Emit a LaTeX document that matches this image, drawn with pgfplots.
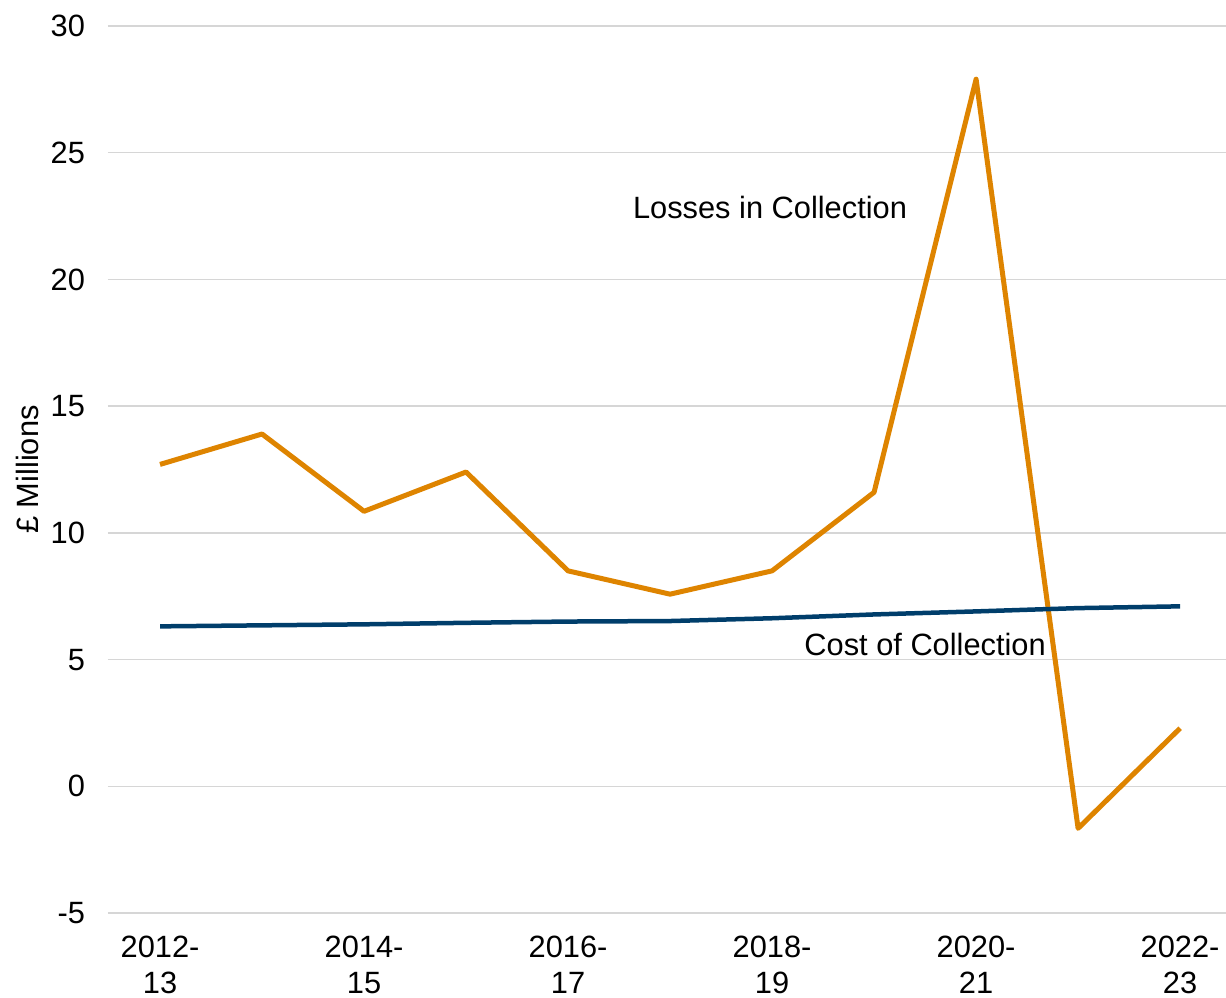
\documentclass[border=0pt]{standalone}
\usepackage{pgfplots}
\pgfplotsset{compat=1.18}
\usepackage{fontspec}
\setmainfont{Liberation Sans}
\definecolor{lossorange}{RGB}{222,132,0}
\definecolor{costblue}{RGB}{0,62,107}
\definecolor{gridgray}{RGB}{214,214,214}
\begin{document}
\begin{tikzpicture}
\begin{axis}[
  scale only axis,
  width=559pt, height=443.5pt,
  xmin=-0.51, xmax=10.45,
  ymin=-5, ymax=30,
  axis line style={draw=none},
  major tick length=0pt,
  ytick={-5,0,5,10,15,20,25,30},
  yticklabels={-5,0,5,10,15,20,25,30},
  xtick={0,2,4,6,8,10},
  xticklabels={{2012-\\13},{2014-\\15},{2016-\\17},{2018-\\19},{2020-\\21},{2022-\\23}},
  ymajorgrids,
  grid style={gridgray, line width=0.75pt},
  tick label style={font=\fontsize{15.4}{17.6}\selectfont},
  xticklabel style={align=center, inner sep=0pt, yshift=-11.5pt},
  yticklabel style={xshift=-8pt},
  ylabel={£ Millions},
  ylabel style={at={(rel axis cs:0,0.5)}, anchor=center, rotate=0, yshift=40.5pt, font=\fontsize{15.4}{17.6}\selectfont},
  clip=false,
]
\addplot[lossorange, line width=2.5pt, line join=round] coordinates {
(0,12.7) (1,13.9) (2,10.85) (3,12.4) (4,8.5) (5,7.58) (6,8.5) (7,11.6) (8,27.9) (9,-1.66) (10,2.29)
};
\addplot[costblue, line width=2.25pt, line join=round] coordinates {
(0,6.31) (1,6.35) (2,6.39) (3,6.45) (4,6.5) (5,6.52) (6,6.63) (7,6.78) (8,6.9) (9,7.03) (10,7.1)
};
\node[anchor=base, inner sep=0, font=\fontsize{15.4}{17.6}\selectfont] at (axis cs:5.98,22.41) {Losses in Collection};
\node[anchor=base, inner sep=0, font=\fontsize{15.4}{17.6}\selectfont] at (axis cs:7.5,5.17) {Cost of Collection};
\coordinate (bl) at (rel axis cs:0,0);
\coordinate (tr) at (rel axis cs:1,1);
\end{axis}
\pgfresetboundingbox
\path[use as bounding box] ([shift={(-54pt,-42.5pt)}]bl) rectangle ([shift={(0pt,13pt)}]tr);
\end{tikzpicture}
\end{document}
